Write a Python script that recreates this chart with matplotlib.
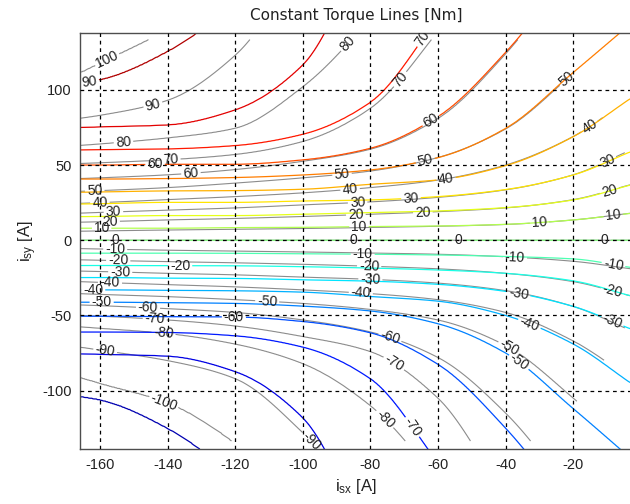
import numpy as np
import matplotlib
matplotlib.use('Agg')
import matplotlib.pyplot as plt
from matplotlib.colors import LinearSegmentedColormap, Normalize

plt.rcParams['font.family'] = ['Liberation Sans', 'DejaVu Sans']
plt.rcParams['axes.unicode_minus'] = False

# isx columns [A] at which the crossing points of each torque line were read
isx_cols = [-166, -160, -140, -120, -100, -80, -60, -40, -20, -3]

# coloured (model) torque lines [Nm], isy [A] of each line at isx_cols
model_pos_levels = [10, 20, 30, 40, 50, 60, 70, 80, 90]
model_pos_isy = [
    [8.0, 8.0, 8.0, 8.4, 8.6, 9.1, 9.5, 10.6, 13.5, 17.9],
    [15.7, 15.8, 16.4, 16.4, 17.3, 18.4, 19.5, 21.7, 26.8, 36.8],
    [24.1, 24.3, 25.2, 25.2, 26.1, 26.8, 29.0, 33.7, 43.4, 58.9],
    [31.9, 32.1, 32.8, 33.0, 33.9, 37.2, 40.1, 49.6, 68.9, 94.4],
    [40.7, 40.7, 41.0, 41.7, 43.4, 46.7, 54.9, 74.4, 111.6, 144],
    [50.0, 50.0, 50.5, 50.5, 53.4, 61.1, 82.2, 125, 181, 230],
    [60.0, 60.2, 60.7, 62.9, 70.4, 91.7, 148, 210, 270, 330],
    [74.9, 75.3, 76.6, 86.6, 116.5, 197, 260, 320, 380, 440],
    [104.3, 106.5, 125.4, 159, 220, 280, 340, 400, 460, 520],
]
model_neg_levels = [-90, -80, -70, -60, -50, -40, -30, -20, -10]
model_neg_isy = [
    [-103.7, -106, -125, -159, -220, -280, -340, -400, -460, -520],
    [-75.5, -75.8, -77, -87.3, -118, -197, -260, -320, -380, -440],
    [-61, -61, -61.3, -63.5, -71, -92, -148, -210, -270, -330],
    [-50.5, -50.5, -50.8, -51, -54, -61.5, -82.5, -125, -181, -230],
    [-41.2, -41.2, -41.5, -42, -43.8, -47, -55.5, -75, -112, -145],
    [-33, -33, -33.3, -33.6, -34.5, -37.4, -40.5, -50, -69, -95],
    [-24.8, -24.8, -25.2, -25.4, -26.3, -27.2, -29.3, -34, -44, -59],
    [-16.8, -16.8, -16.9, -17, -17.6, -18.5, -19.8, -22, -27, -37],
    [-8.6, -8.6, -8.6, -8.7, -9.0, -9.3, -9.8, -10.8, -12.4, -18.1],
]

# grey (measured) torque lines [Nm]
grey_pos_levels = [10, 20, 30, 40, 50, 60, 70, 80, 90, 100]
grey_pos_isy = [
    [6.0, 6.2, 6.8, 7.3, 7.8, 8.5, 9.3, 10.5, 13.5, 18],
    [12, 12.3, 13.5, 14.5, 15.8, 17.3, 19, 21.5, 27, 37],
    [18, 18.5, 20, 21.5, 23.5, 25.5, 28.5, 33.5, 43.5, 60],
    [24.5, 25, 27, 29, 31.5, 35, 40, 50, 69, 95],
    [32.5, 33, 35, 38, 41.5, 46, 55, 74, 111, 145],
    [41, 41.5, 43.5, 47, 52.5, 60.5, 81, 124, 182, 230],
    [51, 51.5, 53.5, 57, 65.6, 87.7, 139, 200, 260, 320],
    [63, 64, 68, 74.4, 102, 148, 210, 270, 330, 390],
    [81, 83, 93, 123, 183, 240, 300, 360, 420, 480],
    [111, 117.6, 140, 170, 220, 280, 340, 400, 460, 520],
]
grey_neg_levels = [-100, -90, -80, -70, -60, -50, -40, -30, -20, -10]
grey_neg_isy = [
    [-91, -95, -108, -135, -180, -240, -300, -360, -420, -480],
    [-71, -73, -80, -92, -128, -180, -240, -300, -360, -420],
    [-57.5, -58.5, -62, -69, -82, -110, -160, -220, -280, -340],
    [-50, -50.5, -53, -57, -64, -74, -105, -170, -230, -290],
    [-43, -43.5, -45.5, -48, -53, -61, -78, -115, -170, -220],
    [-35.5, -36, -37.5, -39.5, -42, -46, -53, -70, -105, -140],
    [-27.5, -28, -29.5, -31, -33, -35.5, -39.5, -48, -67, -92],
    [-20.5, -20.8, -22, -23, -24.5, -26, -28.5, -33.5, -44, -60],
    [-13, -13.3, -14.2, -15, -16, -17.3, -19, -22, -27.5, -37],
    [-5.5, -5.8, -6.6, -7.2, -7.8, -8.5, -9.3, -11, -14, -19],
]
# edge of the measured region: max isx for a given |isy|
grey_edge_absy = [0, 62, 88, 106, 133]
grey_edge_isx = [12, -5.7, -13, -18.5, -26.4]
grey_absy_max = 133.5

# where the line labels sit
model_label_xy = [(-163, 101), (-143.7, 50.5), (-159.5, 7.8), (-64, 133), (-61, 75.3),
                  (-8.1, 14.4), (-63.5, 51), (-57.6, 40), (-68, 26.6), (-83.4, 8.9),
                  (-162, -34.3), (-159.5, -42.5), (-136.3, -17.7), (-120.4, -53.2),
                  (-82.3, -8.9), (-36.4, -37.7), (-33.4, -57.6), (-36.4, -82), (-69, -126),
                  (-8.1, -15.5), (-8.1, -52), (-155.5, -1), (-54, -1), (-85, 0), (-10.7, -1)]
grey_label_xy = [(-158, 120.7), (-144, 88), (-153, 63.8), (-139, 52), (-133, 42), (-161.5, 31),
                 (-160, 24.4), (-156, 17.7), (-157, 12), (-86.8, 130.7), (-70, 105),
                 (-21.5, 106.3), (-15.5, 76.4), (-9.6, 51), (-9.2, 32), (-64.5, 17.7),
                 (-30, 10.6), (-88.3, 41), (-86, 33), (-83.8, 24.8), (-84.3, 15.5),
                 (-155.5, -6.6), (-154.6, -13.3), (-154, -20), (-157, -26), (-145.7, -41),
                 (-143.7, -49), (-141.2, -62), (-158.5, -74.2), (-141.2, -108.5),
                 (-110.5, -38.8), (-97.2, -134), (-80.4, -17.7), (-80, -24.4), (-82.8, -32.8),
                 (-37.3, -13.3), (-38.3, -68.6), (-74, -63), (-73.4, -83), (-76.4, -120.7),
                 (-8.1, -31)]

xg = np.linspace(-166, -2.5, 500)
yg = np.linspace(-140, 139, 600)


def pchip(xk, yk, x):
    xk = np.asarray(xk, float)
    yk = np.asarray(yk, float)
    h = np.diff(xk)
    d = np.diff(yk) / h
    m = np.zeros_like(yk)
    m[0], m[-1] = d[0], d[-1]
    for i in range(1, len(xk) - 1):
        if d[i - 1] * d[i] > 0:
            w1, w2 = 2 * h[i] + h[i - 1], h[i] + 2 * h[i - 1]
            m[i] = (w1 + w2) / (w1 / d[i - 1] + w2 / d[i])
    i = np.clip(np.searchsorted(xk, x) - 1, 0, len(h) - 1)
    t = (x - xk[i]) / h[i]
    return ((2 * t**3 - 3 * t**2 + 1) * yk[i] + (t**3 - 2 * t**2 + t) * h[i] * m[i]
            + (-2 * t**3 + 3 * t**2) * yk[i + 1] + (t**3 - t**2) * h[i] * m[i + 1])


def torque_grid(neg_levels, neg_rows, pos_levels, pos_rows):
    lev = np.array(list(neg_levels) + [0] + list(pos_levels), float)
    rows = list(neg_rows) + [[0.0] * len(isx_cols)] + list(pos_rows)
    ys = np.array([pchip(isx_cols, r, xg) for r in rows])
    k = np.ones(9) / 9
    ys = np.array([np.convolve(np.pad(r, 4, mode='edge'), k, mode='valid') for r in ys])
    ys = np.maximum.accumulate(ys, axis=0)
    ys += np.arange(len(ys))[:, None] * 1e-6
    lev = np.concatenate([[lev[0] - 50], lev, [lev[-1] + 50]])
    ys = np.vstack([np.full(len(xg), -5000.0), ys, np.full(len(xg), 5000.0)])
    return np.column_stack([np.interp(yg, ys[:, j], lev) for j in range(len(xg))])


T_model = torque_grid(model_neg_levels, model_neg_isy, model_pos_levels, model_pos_isy)
T_grey = torque_grid(grey_neg_levels, grey_neg_isy, grey_pos_levels, grey_pos_isy)
XX, YY = np.meshgrid(xg, yg)
outside = (np.abs(YY) > grey_absy_max) | (XX > np.interp(np.abs(YY), grey_edge_absy, grey_edge_isx))
T_grey = np.ma.masked_where(outside, T_grey)

# MATLAB style jet
mjet = LinearSegmentedColormap.from_list('mjet', [
    (0.0, (0, 0, 0.5)), (0.125, (0, 0, 1)), (0.375, (0, 1, 1)),
    (0.625, (1, 1, 0)), (0.875, (1, 0, 0)), (1.0, (0.5, 0, 0))])

fig = plt.figure(figsize=(6.3, 5.04), dpi=100)
ax = fig.add_axes([80 / 630, 54.7 / 504, 550 / 630 + 0.003, 416.6 / 504])
ax.set_xlim(-165.9, -2.7)
ax.set_ylim(-139, 138)

model_levels = model_neg_levels + [0] + model_pos_levels
grey_levels = grey_neg_levels + [0] + grey_pos_levels
cs2 = ax.contour(xg, yg, T_grey, levels=grey_levels, colors='#8c8c8c', linewidths=0.8,
                 negative_linestyles='solid', zorder=2.1)
cs1 = ax.contour(xg, yg, T_model, levels=model_levels, cmap=mjet, norm=Normalize(-100, 100),
                 linewidths=0.9, negative_linestyles='solid', zorder=2.2)
ax.clabel(cs1, fmt='%d', fontsize=10, colors='#222222', inline=True, inline_spacing=2,
          manual=model_label_xy)
ax.clabel(cs2, fmt='%d', fontsize=10, colors='#222222', inline=True, inline_spacing=2,
          manual=grey_label_xy)

ax.set_xticks(range(-160, 0, 20))
ax.set_yticks([-100, -50, 0, 50, 100])
ax.set_axisbelow(False)
ax.grid(True, color='black', linestyle=(0, (3, 3)), linewidth=0.9)
ax.tick_params(direction='in', length=0, labelsize=10.5, colors='#222222', pad=6)
for s in ['left', 'bottom', 'top']:
    ax.spines[s].set_color('#4d4d4d')
    ax.spines[s].set_linewidth(1.0)
ax.spines['right'].set_visible(False)

ax.set_title('Constant Torque Lines [Nm]', fontsize=11, color='#222222', pad=9,
             family=['DejaVu Sans'])
ax.set_xlabel(r'$\mathregular{i_{sx}}$ [A]', fontsize=12, color='#222222', labelpad=4)
ax.set_ylabel(r'$\mathregular{i_{sy}}$ [A]', fontsize=12, color='#222222', labelpad=2)

fig.savefig('out.png', dpi=100)
